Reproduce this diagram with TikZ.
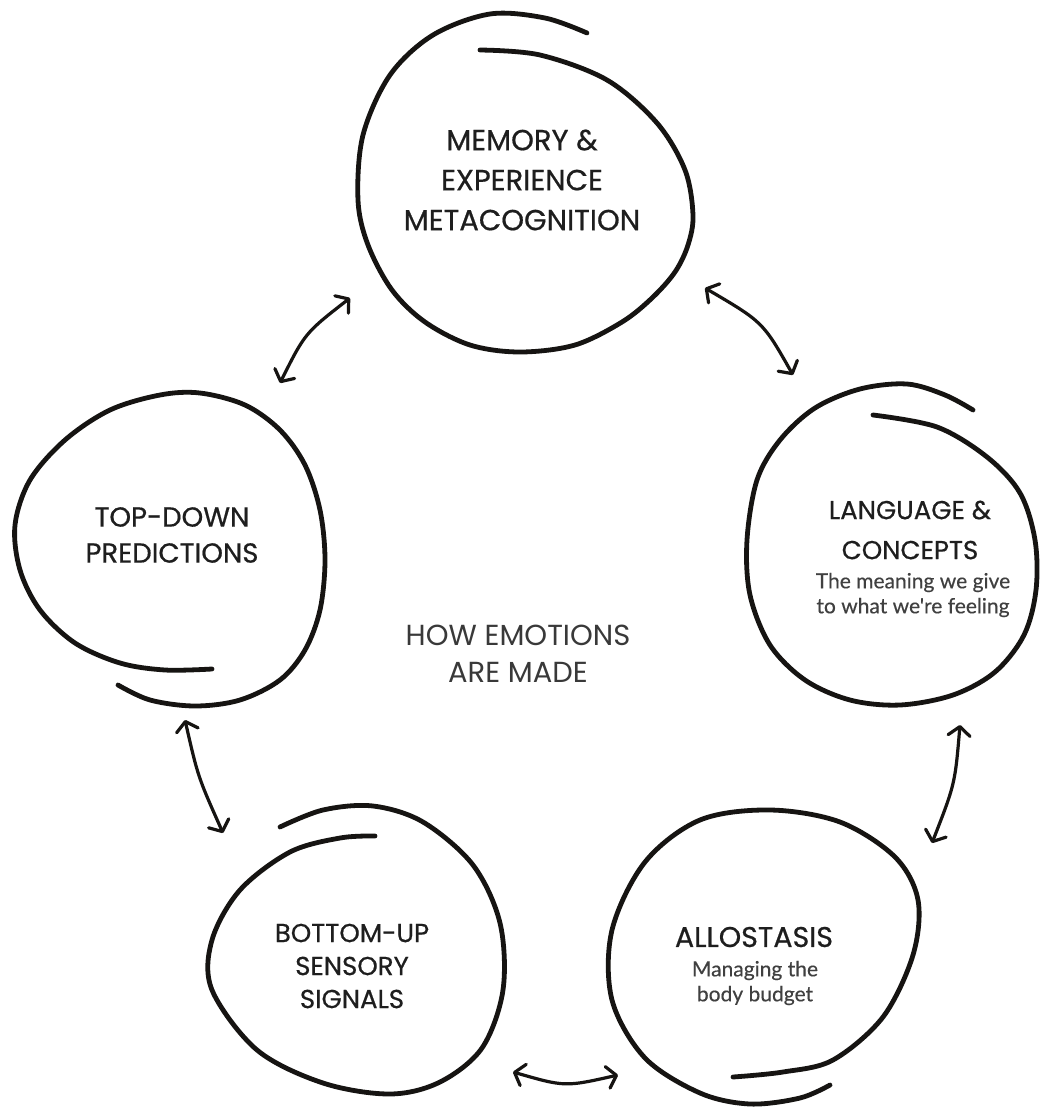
\documentclass[tikz,border=0pt]{standalone}
\usepackage{fontspec}
\setmainfont{Poppins}[FakeBold=0.6]
\newfontfamily\subfont{Lato}[FakeBold=0.3]
\newfontfamily\titlefont{Poppins}
\usetikzlibrary{arrows.meta}
\definecolor{ink}{HTML}{161412}
\definecolor{txt}{HTML}{1E1E1E}
\tikzset{
  blob/.style={draw=ink, line width=4.8pt, line cap=round, line join=round},
  arr/.style={draw=ink, line width=3.2pt, line cap=round,
    >={Straight Barb[length=9pt,width=22pt,round]}, <->},
  head/.style={text=txt, align=center, inner sep=0pt},
  subt/.style={text=txt!85, align=center, inner sep=0pt, font=\subfont\fontsize{21}{25}\selectfont},
  title/.style={text=txt!88, align=center, inner sep=0pt, font=\titlefont\fontsize{29}{37}\selectfont}
}
\begin{document}
\begin{tikzpicture}[x=1pt,y=-1pt]
\fill[white] (0,0) rectangle (1041,1109);
\useasboundingbox (0,0) rectangle (1041,1109);

% blobs
\draw[blob] plot[smooth, tension=0.55] coordinates {(480,50) (540,55) (607,80) (657,123) (685,170) (693,215) (688,245) (675,272) (652,298) (622,322) (575,345) (520,352) (470,345) (425,322) (392,290) (368,245) (358,200) (363,135) (390,75) (433,35) (490,14) (545,18) (587,33)};
\draw[blob] plot[smooth, tension=0.55] coordinates {(118,685) (150,700) (195,706) (240,700) (280,680) (305,650) (320,610) (325,560) (320,510) (305,465) (280,430) (245,405) (200,393) (160,395) (110,410) (65,440) (30,480) (15,525) (20,570) (40,610) (75,643) (120,663) (165,670) (212,669)};
\draw[blob] plot[smooth, tension=0.55] coordinates {(873,415) (937,427) (987,457) (1020,493) (1035,540) (1036,590) (1024,635) (995,672) (953,695) (900,705) (850,700) (805,680) (770,645) (750,595) (747,540) (757,480) (780,440) (815,408) (860,389) (907,384) (945,395) (973,410)};
\draw[blob] plot[smooth, tension=0.55] coordinates {(733,1077) (783,1072) (833,1060) (883,1017) (913,955) (918,900) (895,857) (840,822) (770,810) (700,820) (645,862) (612,930) (612,1000) (645,1058) (700,1093) (750,1104) (800,1098) (830,1085)};
\draw[blob] plot[smooth, tension=0.55] coordinates {(280,827) (323,810) (373,806) (423,822) (473,865) (500,923) (503,990) (482,1048) (440,1082) (390,1094) (323,1083) (257,1050) (212,990) (212,940) (240,890) (290,852) (340,838) (375,836)};

% texts
\node[head, font=\fontsize{29}{40}\selectfont] (memory) at (522,180) {MEMORY \&\\EXPERIENCE\\METACOGNITION};
\node[head, font=\fontsize{27.5}{36}\selectfont] (topdown) at (172,535) {TOP-DOWN\\PREDICTIONS};
\node[head, font=\fontsize{26}{40}\selectfont] (language) at (910,530) {LANGUAGE \&\\CONCEPTS};
\node[subt] (languagesub) at (913,595) {The meaning we give\\to what we're feeling};
\node[title] (how) at (518,654) {HOW EMOTIONS\\ARE MADE};
\node[head, font=\fontsize{26}{33}\selectfont] (bottomup) at (352,966) {BOTTOM-UP\\SENSORY\\SIGNALS};
\node[head, font=\fontsize{28.5}{36}\selectfont] (allostasis) at (754,937) {ALLOSTASIS};
\node[subt] (allostasissub) at (755,983) {Managing the\\body budget};

% arrow ends
\coordinate (a1s) at (280,383); \coordinate (a1e) at (350,298);
\coordinate (a2s) at (705,288); \coordinate (a2e) at (793,375);
\coordinate (a3s) at (185,720); \coordinate (a3e) at (223,833);
\coordinate (a4s) at (960,725); \coordinate (a4e) at (932,843);
\coordinate (a5s) at (513,1072); \coordinate (a5e) at (618,1075);

\draw[arr] (a1s) .. controls (305,333) .. (a1e);
\draw[arr] (a2s) .. controls (763,322) .. (a2e);
\draw[arr] (a3s) .. controls (198,777) .. (a3e);
\draw[arr] (a4s) .. controls (955,784) .. (a4e);
\draw[arr] (a5s) .. controls (565,1087) .. (a5e);
\end{tikzpicture}
\end{document}
